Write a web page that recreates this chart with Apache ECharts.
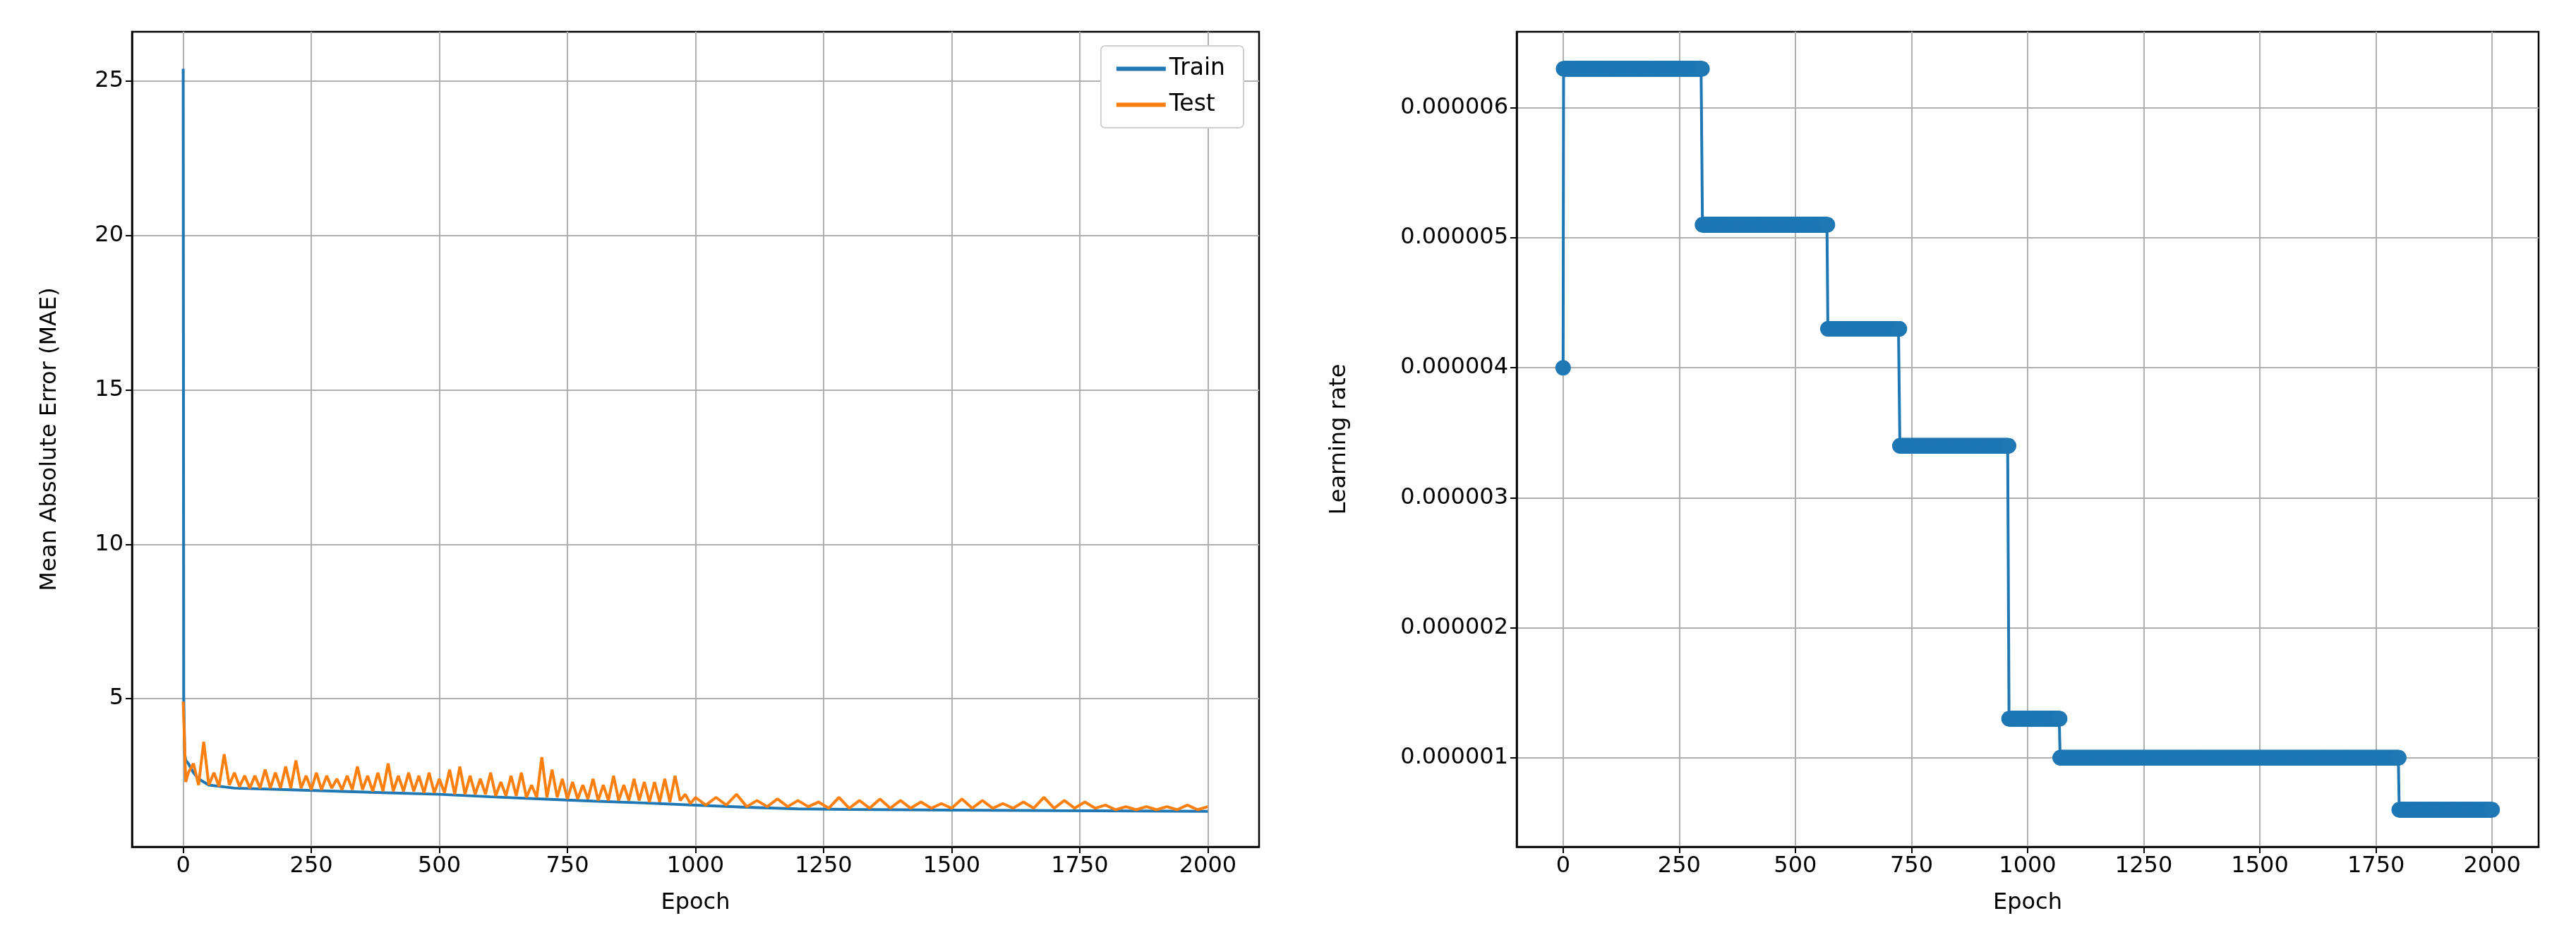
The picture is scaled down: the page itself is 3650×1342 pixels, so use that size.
<!DOCTYPE html>
<html><head><meta charset="utf-8">
<script src="https://cdn.jsdelivr.net/npm/echarts@6/dist/echarts.min.js"></script>
<style>html,body{margin:0;padding:0;background:#fff}#c{width:3650px;height:1342px}</style>
</head><body><div id="c"></div>
<script>
const xTicks = [0,250,500,750,1000,1250,1500,1750,2000];
const maeTicks = [5,10,15,20,25];
const lrTicks = [0.000001,0.000002,0.000003,0.000004,0.000005,0.000006];
const trainEpochs = [0,1,3,5,10,20,30,50,100,200,300,400,500,600,700,800,900,1000,1100,1200,1300,1500,1700,2000];
const trainMae = [25.4,5.0,3.2,3.0,2.9,2.6,2.4,2.2,2.1,2.05,2.0,1.95,1.9,1.82,1.75,1.68,1.62,1.55,1.48,1.43,1.41,1.39,1.37,1.35];
const testEpochs = [0,5,10,20,30,40,50,60,70,80,90,100,110,120,130,140,150,160,170,180,190,200,210,220,230,240,250,260,270,280,290,300,310,320,330,340,350,360,370,380,390,400,410,420,430,440,450,460,470,480,490,500,510,520,530,540,550,560,570,580,590,600,610,620,630,640,650,660,670,680,690,700,710,720,730,740,750,760,770,780,790,800,810,820,830,840,850,860,870,880,890,900,910,920,930,940,950,960,970,980,990,1000,
1020,1040,1060,1080,1100,1120,1140,1160,1180,1200,1220,1240,1260,1280,1300,1320,1340,1360,1380,1400,1420,1440,1460,1480,1500,1520,1540,1560,1580,1600,1620,1640,1660,1680,1700,1720,1740,1760,1780,1800,1820,1840,1860,1880,1900,1920,1940,1960,1980,2000];
const testMae = [4.9,2.3,2.6,2.9,2.2,3.6,2.2,2.6,2.15,3.2,2.2,2.6,2.15,2.5,2.1,2.5,2.1,2.7,2.1,2.6,2.1,2.8,2.1,3.0,2.1,2.5,2.05,2.6,2.05,2.5,2.1,2.4,2.05,2.5,2.05,2.8,2.05,2.5,2.0,2.6,2.0,2.9,2.0,2.5,2.0,2.6,2.0,2.5,1.95,2.6,1.95,2.4,1.95,2.7,1.9,2.8,1.9,2.5,1.9,2.4,1.9,2.6,1.85,2.3,1.85,2.5,1.85,2.6,1.8,2.2,1.8,3.1,1.8,2.7,1.8,2.4,1.75,2.3,1.75,2.2,1.75,2.4,1.7,2.2,1.7,2.5,1.7,2.2,1.7,2.4,1.7,2.3,1.65,2.3,1.65,2.4,1.65,2.5,1.7,1.9,1.6,1.8,
1.55,1.8,1.55,1.9,1.5,1.7,1.5,1.75,1.5,1.7,1.5,1.65,1.45,1.8,1.45,1.7,1.45,1.75,1.45,1.7,1.45,1.65,1.45,1.6,1.45,1.75,1.45,1.7,1.45,1.6,1.45,1.65,1.45,1.8,1.45,1.7,1.45,1.65,1.45,1.55,1.4,1.5,1.4,1.5,1.4,1.5,1.4,1.55,1.4,1.5];
// learning-rate schedule: [firstEpoch, lastEpoch, rate]
const lrStart = [0,1,300,570,725,960,1070,1800];
const lrEnd   = [0,299,569,724,959,1069,1799,2000];
const lrValue = [0.000004,0.0000063,0.0000051,0.0000043,0.0000034,0.0000013,0.000001,0.0000006];

const lrData = [];
lrStart.forEach((s,i)=>{for(let e=s;e<=lrEnd[i];e++) lrData.push([e,lrValue[i]]);});
const zip=(a,b)=>a.map((v,i)=>[v,b[i]]);

const font = 'DejaVu Sans';
const axisCommon = {
  axisLine:{show:true,onZero:false,lineStyle:{color:'#000',width:2.5}},
  axisTick:{show:true,inside:false,length:9,lineStyle:{color:'#000',width:2}},
  axisLabel:{color:'#000',fontFamily:font,fontSize:32,margin:12},
  splitLine:{show:true,lineStyle:{color:'#b0b0b0',width:2}},
  nameTextStyle:{color:'#000',fontFamily:font,fontSize:32}
};
function xAxis(gi){return Object.assign({},axisCommon,{type:'value',gridIndex:gi,min:-100,max:2100,
  name:'Epoch',nameLocation:'middle',nameGap:64,
  axisTick:Object.assign({},axisCommon.axisTick,{customValues:xTicks}),
  axisLabel:Object.assign({},axisCommon.axisLabel,{customValues:xTicks,formatter:v=>String(v)})});}
const chart = echarts.init(document.getElementById('c'),null,{renderer:'canvas'});
chart.setOption({
  animation:false,
  backgroundColor:'#fff',
  grid:[{left:187,right:1866,top:45,bottom:142,show:true,borderColor:'#000',borderWidth:2.5},
        {left:2149,right:53,top:45,bottom:142,show:true,borderColor:'#000',borderWidth:2.5}],
  legend:{show:true,right:1866+22,top:65,orient:'vertical',backgroundColor:'#fff',borderColor:'#d0d0d0',borderWidth:2,borderRadius:6,
    padding:[16,26,16,22],itemGap:18,itemWidth:70,itemHeight:6,textStyle:{fontFamily:font,fontSize:33,color:'#000'},
    data:[{name:'Train',icon:'rect'},{name:'Test',icon:'rect'}]},
  xAxis:[xAxis(0),xAxis(1)],
  yAxis:[
    Object.assign({},axisCommon,{type:'value',gridIndex:0,min:0.2,max:26.6,name:'Mean Absolute Error (MAE)',nameLocation:'middle',nameGap:100,
      axisTick:Object.assign({},axisCommon.axisTick,{customValues:maeTicks}),
      axisLabel:Object.assign({},axisCommon.axisLabel,{customValues:maeTicks})}),
    Object.assign({},axisCommon,{type:'value',gridIndex:1,min:0.000000315,max:0.000006585,name:'Learning rate',nameLocation:'middle',nameGap:235,
      axisTick:Object.assign({},axisCommon.axisTick,{customValues:lrTicks}),
      axisLabel:Object.assign({},axisCommon.axisLabel,{customValues:lrTicks,formatter:v=>v.toFixed(6)})})
  ],
  series:[
    {name:'Train',type:'line',xAxisIndex:0,yAxisIndex:0,data:zip(trainEpochs,trainMae),showSymbol:false,lineStyle:{color:'#1f77b4',width:4},itemStyle:{color:'#1f77b4'}},
    {name:'Test',type:'line',xAxisIndex:0,yAxisIndex:0,data:zip(testEpochs,testMae),showSymbol:false,lineStyle:{color:'#ff7f0e',width:4},itemStyle:{color:'#ff7f0e'}},
    {name:'LR',type:'line',xAxisIndex:1,yAxisIndex:1,data:lrData,step:'end',symbol:'circle',symbolSize:22,showSymbol:true,showAllSymbol:true,
      lineStyle:{color:'#1f77b4',width:4},itemStyle:{color:'#1f77b4'}}
  ]
});
</script></body></html>
